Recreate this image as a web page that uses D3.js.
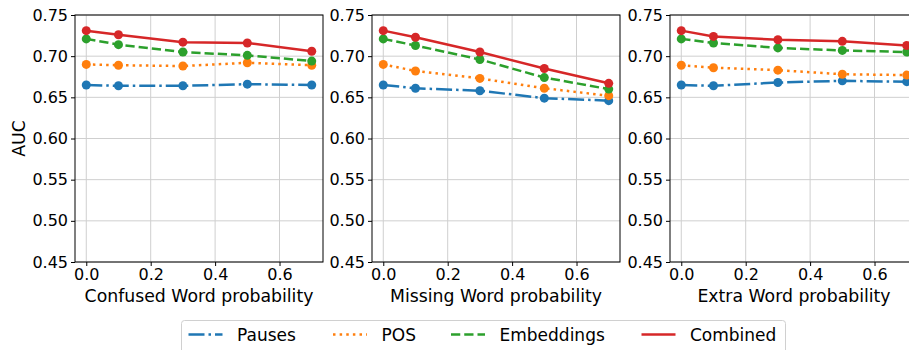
<!DOCTYPE html>
<html>
<head>
<meta charset="utf-8">
<script src="https://cdn.jsdelivr.net/npm/d3@7"></script>
<style>
  body { margin: 0; background: #fff; }
  svg { display: block; font-family: "DejaVu Sans", sans-serif; }
</style>
</head>
<body>
<div id="chart"></div>
<script>
// noise probabilities on the x axis
const probs = [0, 0.1, 0.3, 0.5, 0.7]
const panelLabels = ["Confused Word probability", "Missing Word probability", "Extra Word probability"]
const seriesNames = ["Pauses", "POS", "Embeddings", "Combined"]

// AUC per panel, one array per series
const confusedPauses = [0.665, 0.664, 0.664, 0.666, 0.665]
const confusedPOS = [0.690, 0.689, 0.688, 0.692, 0.689]
const confusedEmb = [0.721, 0.714, 0.705, 0.701, 0.694]
const confusedComb = [0.731, 0.726, 0.717, 0.716, 0.706]

const missingPauses = [0.665, 0.661, 0.658, 0.649, 0.646]
const missingPOS = [0.690, 0.682, 0.673, 0.661, 0.652]
const missingEmb = [0.721, 0.713, 0.696, 0.674, 0.660]
const missingComb = [0.731, 0.723, 0.705, 0.685, 0.667]

const extraPauses = [0.665, 0.664, 0.668, 0.670, 0.669]
const extraPOS = [0.689, 0.686, 0.683, 0.678, 0.677]
const extraEmb = [0.721, 0.716, 0.710, 0.707, 0.705]
const extraComb = [0.731, 0.724, 0.720, 0.718, 0.713]

const xTicks = [0, 0.2, 0.4, 0.6]
const yTicks = [0.45, 0.50, 0.55, 0.60, 0.65, 0.70, 0.75]

const panels = [
  [confusedPauses, confusedPOS, confusedEmb, confusedComb],
  [missingPauses, missingPOS, missingEmb, missingComb],
  [extraPauses, extraPOS, extraEmb, extraComb]
]

const colors = ["#1f77b4", "#ff7f0e", "#2ca02c", "#d62728"]
const lw = 2.5
const dashes = [
  [6.4, 1.6, 1, 1.6].map(d => d * lw).join(","),
  [1, 1.65].map(d => d * lw).join(","),
  [3.7, 1.6].map(d => d * lw).join(","),
  null
]

const width = 909
const height = 350
const panelLeft = [75, 372, 670]
const panelW = 248
const plotTop = 15
const plotBottom = 262

const svg = d3.select("#chart").append("svg")
  .attr("width", width)
  .attr("height", height)

const y = d3.scaleLinear().domain([0.45, 0.75]).range([plotBottom, plotTop])

panels.forEach((series, p) => {
  const x = d3.scaleLinear()
    .domain([-0.035, 0.735])
    .range([panelLeft[p], panelLeft[p] + panelW])

  const g = svg.append("g")

  // GRID
  g.selectAll(".gx").data(xTicks).enter().append("line")
    .attr("x1", d => x(d)).attr("x2", d => x(d))
    .attr("y1", plotTop).attr("y2", plotBottom)
    .attr("stroke", "#cfcfcf").attr("stroke-width", 1)
  g.selectAll(".gy").data(yTicks).enter().append("line")
    .attr("x1", x.range()[0]).attr("x2", x.range()[1])
    .attr("y1", d => y(d)).attr("y2", d => y(d))
    .attr("stroke", "#cfcfcf").attr("stroke-width", 1)

  // clip to axes
  g.append("clipPath").attr("id", "clip" + p)
    .append("rect")
    .attr("x", x.range()[0]).attr("y", plotTop)
    .attr("width", panelW).attr("height", plotBottom - plotTop)

  const line = d3.line()
    .x((d, i) => x(probs[i]))
    .y(d => y(d))

  series.forEach((vals, s) => {
    g.append("path")
      .datum(vals)
      .attr("d", line)
      .attr("fill", "none")
      .attr("stroke", colors[s])
      .attr("stroke-width", lw)
      .attr("stroke-dasharray", dashes[s])
      .attr("clip-path", "url(#clip" + p + ")")
    g.selectAll(".pt" + s).data(vals).enter().append("circle")
      .attr("cx", (d, i) => x(probs[i]))
      .attr("cy", d => y(d))
      .attr("r", 4.5)
      .attr("fill", colors[s])
  })

  // AXES
  const ax = g.append("g")
    .attr("transform", "translate(0," + plotBottom + ")")
    .call(d3.axisBottom(x).tickValues(xTicks).tickFormat(d3.format(".1f"))
      .tickSizeInner(4).tickSizeOuter(0).tickPadding(3))
  const ay = g.append("g")
    .attr("transform", "translate(" + x.range()[0] + ",0)")
    .call(d3.axisLeft(y).tickValues(yTicks).tickFormat(d3.format(".2f"))
      .tickSizeInner(4).tickSizeOuter(0).tickPadding(3))
  ;[ax, ay].forEach(a => {
    a.select(".domain").remove()
    a.selectAll("text").style("font-size", "16px").attr("fill", "#000")
      .style("font-family", "DejaVu Sans")
    a.selectAll("line").attr("stroke", "#000").attr("stroke-width", 1)
  })

  // frame
  g.append("rect")
    .attr("x", x.range()[0]).attr("y", plotTop)
    .attr("width", panelW).attr("height", plotBottom - plotTop)
    .attr("fill", "none").attr("stroke", "#000").attr("stroke-width", 1)

  g.append("text")
    .attr("x", x.range()[0] + panelW / 2)
    .attr("y", 302)
    .attr("text-anchor", "middle")
    .style("font-size", "17.3px")
    .text(panelLabels[p])
})

// Y LABEL
svg.append("text")
  .attr("transform", "translate(25," + (plotTop + plotBottom) / 2 + ") rotate(-90)")
  .attr("text-anchor", "middle")
  .style("font-size", "17.3px")
  .text("AUC")

// LEGEND
const legend = svg.append("g")
legend.append("rect")
  .attr("x", 181.5).attr("y", 320.5)
  .attr("width", 604).attr("height", 40)
  .attr("rx", 3)
  .attr("fill", "#fff").attr("stroke", "#d0d0d0")

const handleX = [188.5, 333, 451, 641.5]
seriesNames.forEach((name, s) => {
  legend.append("line")
    .attr("x1", handleX[s]).attr("x2", handleX[s] + 34)
    .attr("y1", 334.5).attr("y2", 334.5)
    .attr("stroke", colors[s])
    .attr("stroke-width", lw)
    .attr("stroke-dasharray", dashes[s])
  legend.append("text")
    .attr("x", handleX[s] + 48.5)
    .attr("y", 340.5)
    .style("font-size", "17px")
    .text(name)
})
</script>
</body>
</html>
